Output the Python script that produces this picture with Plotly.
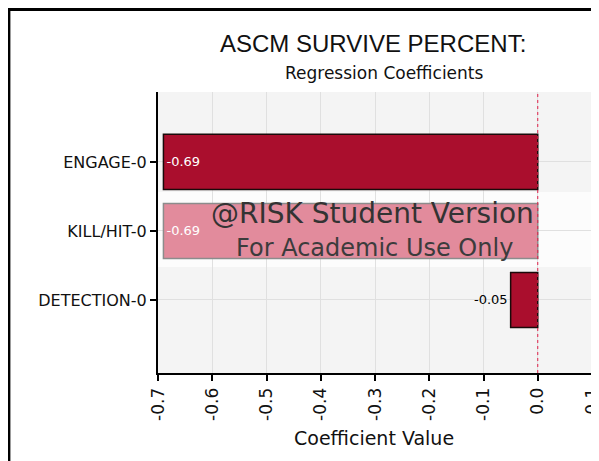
"""Regression coefficient tornado chart for ASCM survive percent."""
import plotly.graph_objects as go

# ── data ──────────────────────────────────────────────────────────────────────
inputs = ["ENGAGE-0", "KILL/HIT-0", "DETECTION-0"]
coefficients = [-0.69, -0.69, -0.05]
bar_labels = ["-0.69", "-0.69", "-0.05"]
x_tickvals = [-0.7, -0.6, -0.5, -0.4, -0.3, -0.2, -0.1, 0.0, 0.1]
x_ticktext = ["-0.7", "-0.6", "-0.5", "-0.4", "-0.3", "-0.2", "-0.1", "0.0", "0.1"]

bar_fill = ["#aa0e2d", "#e28b9c", "#aa0e2d"]
bar_edge = ["#1a0a0a", "#8c8c8c", "#1a0a0a"]
label_pos = ["inside", "inside", "outside"]
label_color = ["white", "white", "black"]

FONT = "DejaVu Sans"

fig = go.Figure(
    go.Bar(
        x=coefficients,
        y=inputs,
        orientation="h",
        width=0.8,
        marker=dict(color=bar_fill, line=dict(color=bar_edge, width=1.5)),
        text=bar_labels,
        textposition=label_pos,
        insidetextanchor="end",
        textangle=0,
        textfont=dict(family=FONT, size=13, color=label_color),
        cliponaxis=False,
        hoverinfo="x+y",
    )
)

# pale band behind the student-version watermark
fig.add_shape(type="rect", xref="paper", yref="paper", x0=0, x1=1, y0=0.377, y1=0.644,
              fillcolor="rgba(255,255,255,0.75)", line=dict(width=0), layer="below")

# zero reference line
fig.add_shape(type="line", xref="x", yref="paper", x0=0, x1=0, y0=0, y1=1,
              line=dict(color="#e0204a", width=1, dash="dot"), layer="above")

# frame around the window (top and left edges only)
fig.add_shape(type="line", xref="paper", yref="paper", x0=-0.35, x1=1.05,
              y0=1.295, y1=1.295, line=dict(color="black", width=4))
fig.add_shape(type="line", xref="paper", yref="paper", x0=-0.343, x1=-0.343,
              y0=1.31, y1=-0.35, line=dict(color="black", width=2.5))

annotations = [
    dict(text="ASCM SURVIVE PERCENT:", x=0.495, y=1.171,
         font=dict(family="Liberation Sans", size=24, color="#111")),
    dict(text="Regression Coefficients", x=0.521, y=1.068,
         font=dict(family=FONT, size=17, color="#111")),
    dict(text="Coefficient Value", x=0.498, y=-0.231,
         font=dict(family=FONT, size=19, color="#111")),
    dict(text="@RISK Student Version", x=0.495, y=0.569,
         font=dict(family=FONT, size=28, color="#333")),
    dict(text="For Academic Use Only", x=0.498, y=0.445,
         font=dict(family=FONT, size=24, color="#3c3c3c")),
]
for a in annotations:
    fig.add_annotation(xref="paper", yref="paper", showarrow=False,
                       xanchor="center", yanchor="middle", **a)

# the page body adds an 8px margin, so the figure is 8px smaller each way
fig.update_layout(
    width=591,
    height=453,
    margin=dict(l=150, r=7, t=84, b=88, autoexpand=False),
    paper_bgcolor="white",
    plot_bgcolor="#f4f4f4",
    showlegend=False,
    font=dict(family=FONT, size=14, color="#111"),
    xaxis=dict(
        range=[-0.7, 0.1],
        tickvals=x_tickvals,
        ticktext=x_ticktext,
        tickangle=-90,
        ticks="outside",
        ticklen=6,
        tickwidth=2,
        tickcolor="black",
        ticklabeloverflow="allow",
        automargin=False,
        showline=True,
        linecolor="black",
        linewidth=2,
        showgrid=True,
        gridcolor="#e0e0e0",
        zeroline=False,
        tickfont=dict(family=FONT, size=17, color="#111"),
    ),
    yaxis=dict(
        type="category",
        categoryarray=inputs,
        range=[3.058, -1.014],
        ticks="outside",
        ticklen=6,
        tickwidth=2,
        tickcolor="black",
        automargin=False,
        showline=True,
        linecolor="black",
        linewidth=2,
        showgrid=True,
        gridcolor="#e0e0e0",
        zeroline=False,
        tickfont=dict(family=FONT, size=16, color="#111"),
    ),
)

fig.write_html("out.html")
